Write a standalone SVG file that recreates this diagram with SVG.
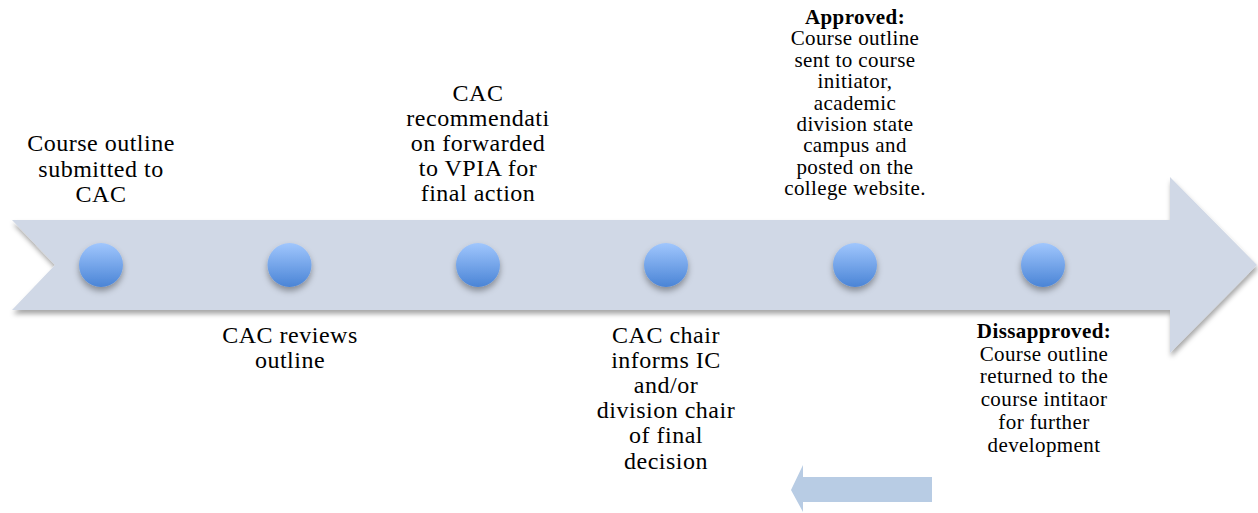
<svg xmlns="http://www.w3.org/2000/svg" width="1258" height="513" viewBox="0 0 1258 513">
<defs>
<filter id="shadow" x="-5%" y="-20%" width="110%" height="150%">
<feDropShadow dx="1" dy="4" stdDeviation="2.5" flood-color="#000" flood-opacity="0.35"/>
</filter>
<filter id="cshadow" x="-50%" y="-50%" width="200%" height="220%">
<feDropShadow dx="0" dy="4" stdDeviation="3" flood-color="#000" flood-opacity="0.35"/>
</filter>
<linearGradient id="dot" x1="0" y1="0" x2="0" y2="1">
<stop offset="0" stop-color="#a0c6fd"/>
<stop offset="1" stop-color="#4a84d6"/>
</linearGradient>
<style>
.t{font-family:"Liberation Serif",serif;font-size:24px;fill:#000;text-anchor:middle;letter-spacing:0.5px}
.s{font-family:"Liberation Serif",serif;font-size:21px;fill:#000;text-anchor:middle;letter-spacing:0.4px}
.b{font-weight:bold}
.dot{fill:url(#dot);filter:url(#cshadow)}
</style>
</defs>
<rect width="1258" height="513" fill="#fff"/>
<g id="timeline-arrow">
<path d="M12,220 L1170,220 L1170,177 L1257,265 L1170,353 L1170,310 L12,310 L55,265 Z" fill="#d0d8e6" filter="url(#shadow)"/>
</g>
<g id="back-arrow">
<path d="M932,477 L803,477 L803,465 L791,490 L803,512 L803,502 L932,502 Z" fill="#b8cce4"/>
</g>
<g id="connectors"></g>
<g id="node1">
<circle class="dot" cx="101" cy="265" r="22"/>
<text class="t" x="101" y="151">Course outline<tspan x="101" dy="25.5">submitted to</tspan><tspan x="101" dy="25.5">CAC</tspan></text>
</g>
<g id="node2">
<circle class="dot" cx="289.5" cy="265" r="22"/>
<text class="t" x="290" y="343">CAC reviews<tspan x="290" dy="25">outline</tspan></text>
</g>
<g id="node3">
<circle class="dot" cx="478" cy="265" r="22"/>
<text class="t" x="478" y="101">CAC<tspan x="478" dy="25">recommendati</tspan><tspan x="478" dy="25">on forwarded</tspan><tspan x="478" dy="25">to VPIA for</tspan><tspan x="478" dy="25">final action</tspan></text>
</g>
<g id="node4">
<circle class="dot" cx="666" cy="265" r="22"/>
<text class="t" x="666" y="343">CAC chair<tspan x="666" dy="25.1">informs IC</tspan><tspan x="666" dy="25.1">and/or</tspan><tspan x="666" dy="25.1">division chair</tspan><tspan x="666" dy="25.1">of final</tspan><tspan x="666" dy="25.1">decision</tspan></text>
</g>
<g id="node5">
<circle class="dot" cx="855" cy="265" r="22"/>
<text class="s" x="855" y="24"><tspan class="b">Approved:</tspan><tspan x="855" dy="21.4">Course outline</tspan><tspan x="855" dy="21.4">sent to course</tspan><tspan x="855" dy="21.4">initiator,</tspan><tspan x="855" dy="21.4">academic</tspan><tspan x="855" dy="21.4">division state</tspan><tspan x="855" dy="21.4">campus and</tspan><tspan x="855" dy="21.4">posted on the</tspan><tspan x="855" dy="21.4">college website.</tspan></text>
</g>
<g id="node6">
<circle class="dot" cx="1043" cy="265" r="22"/>
<text class="s" x="1044" y="338"><tspan class="b">Dissapproved:</tspan><tspan x="1044" dy="22.7">Course outline</tspan><tspan x="1044" dy="22.7">returned to the</tspan><tspan x="1044" dy="22.7">course intitaor</tspan><tspan x="1044" dy="22.7">for further</tspan><tspan x="1044" dy="22.7">development</tspan></text>
</g>
</svg>
